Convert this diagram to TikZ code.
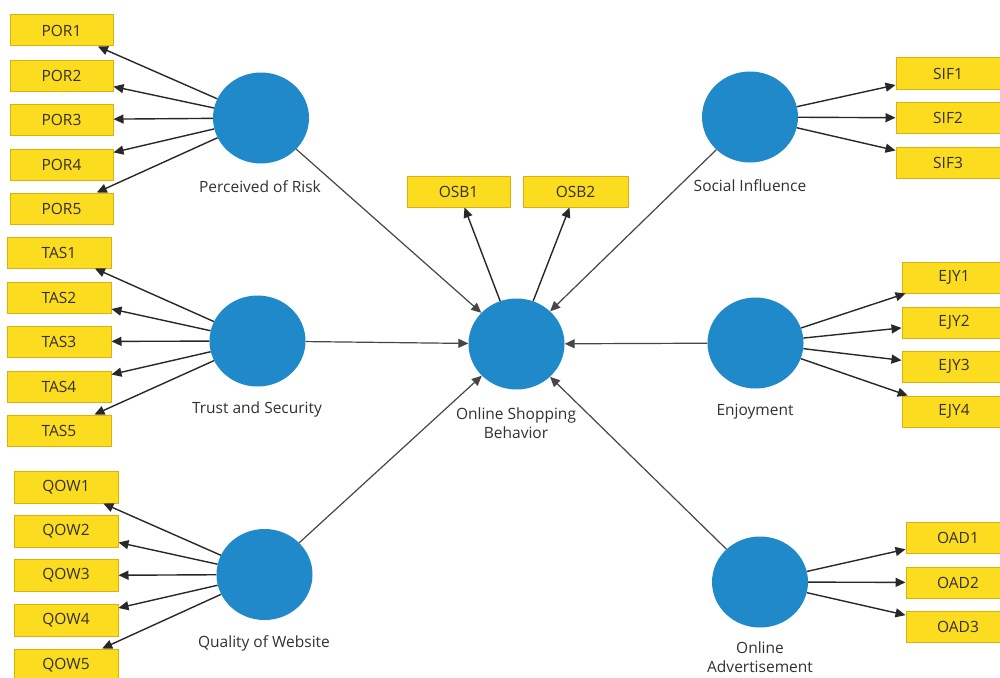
\documentclass[tikz,border=0pt]{standalone}
\usepackage{fontspec}
\setmainfont{Open Sans}
\usetikzlibrary{shapes.geometric,arrows.meta}
\definecolor{boxfill}{RGB}{252,220,30}
\definecolor{boxline}{RGB}{218,178,10}
\definecolor{lvblue}{RGB}{32,137,201}
\definecolor{txt}{RGB}{52,48,48}
\definecolor{edge}{RGB}{40,40,40}
\definecolor{sedge}{RGB}{70,70,70}
\begin{document}
\begin{tikzpicture}[x=1pt,y=-1pt,
  ind/.style={draw=boxline,fill=boxfill,line width=1pt,minimum width=104pt,minimum height=31pt,inner sep=0pt,text=txt,font=\fontsize{15.5}{18}\selectfont},
  lv/.style={ellipse,fill=lvblue,draw=none,minimum width=96pt,minimum height=91pt,inner sep=0pt},
  lbl/.style={text=txt,font=\fontsize{15.5}{19.5}\selectfont,align=center,inner sep=0pt},
  arr/.style={draw=edge,line width=1.4pt,-{Triangle[length=10pt,width=9pt]}},
  sarr/.style={arr,draw=sedge,line width=1.2pt}]
\useasboundingbox (0,0) rectangle (1000,677);
\fill[white] (0,0) rectangle (1000,677);
% latent variables
\node[lv] (por) at (261,118) {};
\node[lbl] (porl) at (260,187) {Perceived of Risk};
\node[lv] (tas) at (257.5,341) {};
\node[lbl] (tasl) at (257,409) {Trust and Security};
\node[lv] (qow) at (264.5,574.5) {};
\node[lbl] (qowl) at (264,643) {Quality of Website};
\node[lv] (osb) at (516.5,344) {};
\node[lbl] (osbl) at (516,423) {Online Shopping\\Behavior};
\node[lv] (sif) at (750,117) {};
\node[lbl] (sifl) at (750,186) {Social Influence};
\node[lv] (ejy) at (755.5,343) {};
\node[lbl] (ejyl) at (755,412) {Enjoyment};
\node[lv] (oad) at (760,582) {};
\node[lbl] (oadl) at (760,657) {Online\\Advertisement};
% indicators
\node[ind,minimum width=103pt] (por1) at (61.5,30.5) {POR1};
\node[ind,minimum width=103pt] (por2) at (61.5,75.5) {POR2};
\node[ind,minimum width=103pt] (por3) at (61.5,119.5) {POR3};
\node[ind,minimum width=103pt] (por4) at (61.5,164.5) {POR4};
\node[ind,minimum width=103pt] (por5) at (61.5,208.5) {POR5};
\node[ind] (tas1) at (59,252.5) {TAS1};
\node[ind] (tas2) at (59,297.5) {TAS2};
\node[ind] (tas3) at (59,341.5) {TAS3};
\node[ind] (tas4) at (59,386.5) {TAS4};
\node[ind] (tas5) at (59,430.5) {TAS5};
\node[ind,minimum height=32pt] (qow1) at (66,487) {QOW1};
\node[ind,minimum height=32pt] (qow2) at (66,531) {QOW2};
\node[ind,minimum height=32pt] (qow3) at (66,575.5) {QOW3};
\node[ind,minimum height=32pt] (qow4) at (66,620) {QOW4};
\node[ind,minimum height=32pt] (qow5) at (66,665) {QOW5};
\node[ind,minimum width=103pt] (osb1) at (458.5,191.5) {OSB1};
\node[ind,minimum width=105pt] (osb2) at (575.5,191.5) {OSB2};
\node[ind] (sif1) at (948,73.5) {SIF1};
\node[ind] (sif2) at (948,118) {SIF2};
\node[ind] (sif3) at (948,162.5) {SIF3};
\node[ind] (ejy1) at (954,277.5) {EJY1};
\node[ind] (ejy2) at (954,322.5) {EJY2};
\node[ind] (ejy3) at (954,366.5) {EJY3};
\node[ind] (ejy4) at (954,411.5) {EJY4};
\node[ind] (oad1) at (958,537.5) {OAD1};
\node[ind] (oad2) at (958,582.5) {OAD2};
\node[ind] (oad3) at (958,627) {OAD3};
% loadings
\foreach \i in {1,...,5} {
  \draw[arr] (por) -- (por\i);
  \draw[arr] (tas) -- (tas\i);
  \draw[arr] (qow) -- (qow\i);
}
\foreach \i in {1,2,3} {
  \draw[arr] (sif) -- (sif\i);
  \draw[arr] (oad) -- (oad\i);
}
\foreach \i in {1,...,4} {
  \draw[arr] (ejy) -- (ejy\i);
}
\draw[arr] (osb) -- ([xshift=6pt]osb1.south);
\draw[arr] (osb) -- ([xshift=-6pt]osb2.south);
% structural paths
\draw[sarr] (por) -- (osb);
\draw[sarr] (tas) -- (osb);
\draw[sarr] (qow) -- (osb);
\draw[sarr] (sif) -- (osb);
\draw[sarr] (ejy) -- (osb);
\draw[sarr] (oad) -- (osb);
\end{tikzpicture}
\end{document}
